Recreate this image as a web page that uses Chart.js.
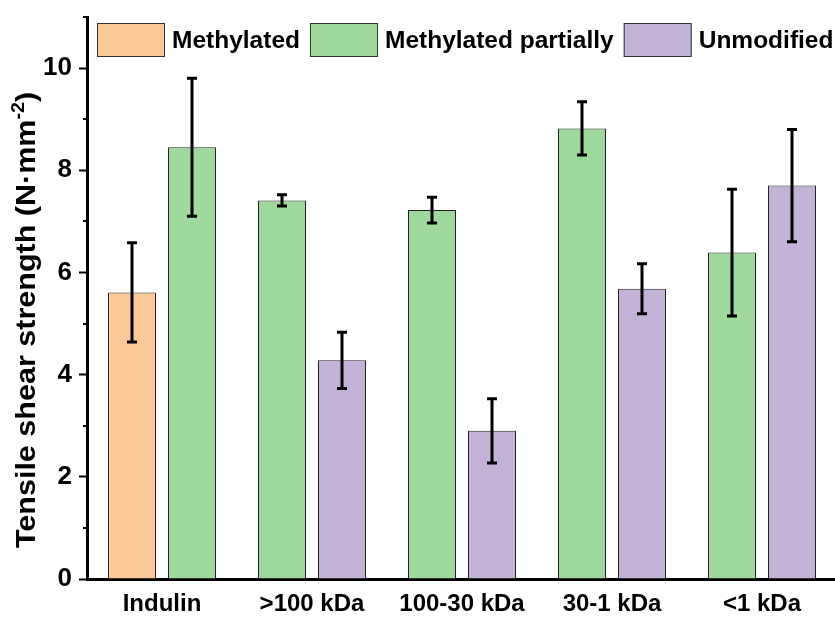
<!DOCTYPE html>
<html>
<head>
<meta charset="utf-8">
<script src="https://cdn.jsdelivr.net/npm/chart.js@4/dist/chart.umd.min.js"></script>
<style>
  html, body { margin: 0; padding: 0; background: #fff; overflow: hidden; }
  #wrap { position: relative; width: 840px; height: 617px; }
</style>
</head>
<body>
<div id="wrap"><canvas id="chart"></canvas></div>
<script>
// --- Data ---
const categories   = ["Indulin", ">100 kDa", "100-30 kDa", "30-1 kDa", "<1 kDa"];
const seriesNames  = ["Methylated", "Methylated partially", "Unmodified"];
const methylated   = [5.61, null, null, null, null];
const methylatedSd = [0.97, null, null, null, null];
const partial      = [8.45, 7.41, 7.22, 8.82, 6.39];
const partialSd    = [1.35, 0.11, 0.25, 0.52, 1.24];
const unmodified   = [null, 4.28, 2.90, 5.68, 7.70];
const unmodifiedSd = [null, 0.55, 0.63, 0.49, 1.10];
const yTicks       = [0, 2, 4, 6, 8, 10];
const yTitle       = "Tensile shear strength (N·mm";
const yTitleSup    = "-2";

const fills   = ["#fcc999", "#9ed89d", "#c2b2d6"];
const FONT    = "'Liberation Sans', Arial, sans-serif";

// --- Error bars ---
const errorBars = {
  id: "errorBars",
  afterDatasetsDraw(chart) {
    const ctx = chart.ctx;
    const y = chart.scales.y;
    ctx.save();
    ctx.strokeStyle = "#000";
    ctx.lineWidth = 3;
    chart.data.datasets.forEach((ds, i) => {
      const meta = chart.getDatasetMeta(i);
      meta.data.forEach((el, j) => {
        const v = ds.data[j], sd = ds.errors[j];
        if (v == null || sd == null) return;
        const top = y.getPixelForValue(v + sd);
        const bot = y.getPixelForValue(v - sd);
        ctx.beginPath();
        ctx.moveTo(el.x, top); ctx.lineTo(el.x, bot);
        ctx.moveTo(el.x - 5, top); ctx.lineTo(el.x + 5, top);
        ctx.moveTo(el.x - 5, bot); ctx.lineTo(el.x + 5, bot);
        ctx.stroke();
      });
    });
    ctx.restore();
  }
};

// --- Minor ticks, axis title, legend ---
const decorations = {
  id: "decorations",
  afterDraw(chart) {
    const ctx = chart.ctx;
    const y = chart.scales.y;
    const left = chart.chartArea.left;
    ctx.save();

    // minor ticks on odd values
    ctx.strokeStyle = "#000";
    ctx.lineWidth = 2;
    y.ticks.forEach(t => {
      if (t.value % 2 === 0) return;
      const py = Math.round(y.getPixelForValue(t.value));
      ctx.beginPath();
      ctx.moveTo(left - 4, py);
      ctx.lineTo(left, py);
      ctx.stroke();
    });

    // y axis title with superscript (a little stretched, like the original)
    ctx.translate(35, 320);
    ctx.rotate(-Math.PI / 2);
    ctx.scale(1.09, 1);
    ctx.fillStyle = "#000";
    ctx.textBaseline = "alphabetic";
    ctx.font = "bold 28px " + FONT;
    const w1 = ctx.measureText(yTitle).width;
    const w3 = ctx.measureText(")").width;
    ctx.font = "bold 18px " + FONT;
    const w2 = ctx.measureText(yTitleSup).width;
    let x = -(w1 + w2 + w3) / 2;
    ctx.font = "bold 28px " + FONT;
    ctx.fillText(yTitle, x, 0);
    x += w1;
    ctx.font = "bold 18px " + FONT;
    ctx.fillText(yTitleSup, x, -11);
    x += w2;
    ctx.font = "bold 28px " + FONT;
    ctx.fillText(")", x, 0);
    ctx.setTransform(1, 0, 0, 1, 0, 0);

    // legend inside the plot
    ctx.font = "bold 24.5px " + FONT;
    ctx.textBaseline = "middle";
    let lx = 97;
    const ly = 23, bw = 68, bh = 34;
    chart.data.datasets.forEach(ds => {
      ctx.fillStyle = ds.backgroundColor;
      ctx.fillRect(lx, ly, bw, bh);
      ctx.strokeStyle = "#333";
      ctx.lineWidth = 1;
      ctx.strokeRect(lx + 0.5, ly + 0.5, bw - 1, bh - 1);
      ctx.fillStyle = "#000";
      ctx.fillText(ds.label, lx + bw + 7, ly + bh / 2 + 1);
      lx += bw + 7 + ctx.measureText(ds.label).width + 10;
    });
    ctx.restore();
  }
};

const mkSet = (label, data, errors, color) => ({
  label, data, errors,
  backgroundColor: color,
  borderColor: "#222",
  borderWidth: 1,
  borderSkipped: "start",
  skipNull: true,
  categoryPercentage: 0.8,
  barPercentage: 0.8
});

new Chart(document.getElementById("chart"), {
  type: "bar",
  data: {
    labels: categories,
    datasets: [
      mkSet(seriesNames[0], methylated, methylatedSd, fills[0]),
      mkSet(seriesNames[1], partial, partialSd, fills[1]),
      mkSet(seriesNames[2], unmodified, unmodifiedSd, fills[2])
    ]
  },
  options: {
    responsive: true,
    maintainAspectRatio: false,
    animation: false,
    layout: { padding: { top: 17, right: 3, left: 0, bottom: 0 } },
    plugins: {
      legend: { display: false },
      tooltip: { enabled: false }
    },
    scales: {
      x: {
        grid: { display: false, drawTicks: false },
        border: { display: true, color: "#000", width: 3 },
        ticks: {
          color: "#000",
          padding: 11,
          maxRotation: 0,
          font: { family: FONT, size: 24, weight: "bold" }
        },
        afterFit: s => { s.height = 38; s.paddingLeft = 0; s.paddingRight = 0; }
      },
      y: {
        min: 0,
        max: 11,
        grid: {
          display: true,
          drawOnChartArea: false,
          drawTicks: true,
          tickLength: 8,
          tickWidth: 2,
          tickColor: c => (c.tick && c.tick.value % 2 === 0) ? "#000" : "rgba(0,0,0,0)"
        },
        border: { display: true, color: "#000", width: 3 },
        ticks: {
          stepSize: 1,
          color: "#000",
          padding: 7,
          font: { family: FONT, size: 26, weight: "bold" },
          callback: v => yTicks.includes(v) ? v : ""
        },
        afterFit: s => { s.width = 87; s.paddingTop = 0; s.paddingBottom = 0; }
      }
    }
  },
  plugins: [errorBars, decorations]
});
</script>
</body>
</html>
